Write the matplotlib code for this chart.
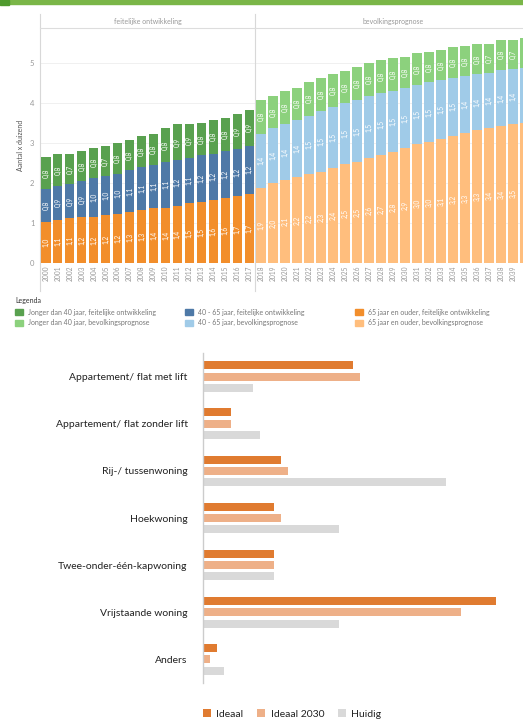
import matplotlib.pyplot as plt
from matplotlib.patches import Rectangle, Patch

plt.rcParams['font.family'] = ['Lato', 'DejaVu Sans']

# bevolking naar leeftijd (x duizend)
years_hist = list(range(2000, 2018))
years_prog = list(range(2018, 2041))

oud_hist = [1.03, 1.08, 1.12, 1.16, 1.16, 1.20, 1.24, 1.27, 1.32, 1.37, 1.39, 1.43, 1.51, 1.54, 1.58, 1.63, 1.68, 1.74]
midden_hist = [0.82, 0.86, 0.87, 0.89, 0.97, 0.98, 1.00, 1.05, 1.09, 1.08, 1.14, 1.16, 1.12, 1.16, 1.16, 1.17, 1.17, 1.19]
jong_hist = [0.81, 0.78, 0.73, 0.76, 0.76, 0.74, 0.76, 0.76, 0.77, 0.79, 0.84, 0.88, 0.86, 0.81, 0.84, 0.83, 0.87, 0.91]

oud_prog = [1.89, 2.01, 2.08, 2.16, 2.23, 2.28, 2.39, 2.48, 2.54, 2.63, 2.71, 2.79, 2.87, 2.97, 3.04, 3.11,
            3.18, 3.26, 3.33, 3.38, 3.43, 3.48, 3.51]
midden_prog = [1.35, 1.36, 1.39, 1.43, 1.46, 1.52, 1.52, 1.52, 1.53, 1.54, 1.54, 1.52, 1.50, 1.49, 1.48, 1.47,
               1.46, 1.42, 1.39, 1.38, 1.40, 1.37, 1.37]
jong_prog = [0.84, 0.81, 0.83, 0.79, 0.84, 0.82, 0.81, 0.81, 0.83, 0.83, 0.82, 0.81, 0.78, 0.79, 0.77, 0.75,
             0.77, 0.75, 0.77, 0.72, 0.76, 0.73, 0.75]

# woningvoorkeur (%)
woningtypes = ['Appartement/ flat met lift', 'Appartement/ flat zonder lift', 'Rij-/ tussenwoning',
               'Hoekwoning', 'Twee-onder-één-kapwoning', 'Vrijstaande woning', 'Anders']
ideaal = [21.3, 4.0, 11.1, 10.1, 10.1, 41.6, 2.0]
ideaal_2030 = [22.3, 4.0, 12.1, 11.1, 10.1, 36.6, 1.0]
huidig = [7.1, 8.1, 34.5, 19.3, 10.1, 19.3, 3.0]

c_jong = ['#59a14f', '#8cd17d']
c_midden = ['#4e79a7', '#a0cbe8']
c_oud = ['#f28e2b', '#ffbe7d']

fig = plt.figure(figsize=(5.23, 7.2), dpi=100)

# groene balk bovenaan
fig.patches.append(Rectangle((0, 0.994), 1, 0.006, transform=fig.transFigure, color='#7ab648', zorder=0))
fig.patches.append(Rectangle((0, 0.993), 0.018, 0.007, transform=fig.transFigure, color='#4f9a2e', zorder=1))

ax1 = fig.add_axes([0.0765, 0.6345, 0.4111, 0.3265])
ax2 = fig.add_axes([0.4876, 0.6345, 0.5277, 0.3265], sharey=ax1)


def fmt(v):
    return f'{v:.1f}'.replace('.', ',')


for ax, years, oud, midden, jong, k, titel in [
        (ax1, years_hist, oud_hist, midden_hist, jong_hist, 0, 'feitelijke ontwikkeling'),
        (ax2, years_prog, oud_prog, midden_prog, jong_prog, 1, 'bevolkingsprognose')]:
    b1 = ax.bar(years, oud, width=0.76, color=c_oud[k], zorder=3)
    b2 = ax.bar(years, midden, width=0.76, bottom=oud, color=c_midden[k], zorder=3)
    bot3 = [a + b for a, b in zip(oud, midden)]
    b3 = ax.bar(years, jong, width=0.76, bottom=bot3, color=c_jong[k], zorder=3)
    # 2040 valt buiten beeld: geen labels
    for bars, vals in [(b1, oud), (b2, midden), (b3, jong)]:
        ax.bar_label(bars, labels=[fmt(v) if y < 2040 else '' for y, v in zip(years, vals)],
                     label_type='center', rotation=90, color='white', fontsize=4.8)
    ax.set_xlim(years[0] - 0.5, years[-1] + 0.5)
    ax.set_xticks(years)
    ax.set_xticklabels([str(y) if y < 2040 else '' for y in years], rotation=90, fontsize=4.8,
                       color='#999999')
    ax.tick_params(axis='x', length=0, pad=2)
    for s in ['right', 'bottom', 'left']:
        ax.spines[s].set_visible(False)
    ax.spines['top'].set_color('#dddddd')
    ax.grid(axis='y', color='#eeeeee', linewidth=0.6, zorder=0)
    ax.plot([0, 0], [-0.12, 1.06], transform=ax.transAxes, color='#d8d8d8', linewidth=0.8, clip_on=False)
    ax.text(0.5, 1.03, titel, transform=ax.transAxes, ha='center', va='center', fontsize=5, color='#999999')

ax1.set_ylim(0, 5.88)
ax1.set_yticks([0, 1, 2, 3, 4, 5])
ax1.tick_params(axis='y', length=0, pad=4, labelsize=5.5, labelcolor='#999999')
ax2.tick_params(axis='y', left=False, labelleft=False)
ax1.set_ylabel('Aantal x duizend', fontsize=5, color='#555555', labelpad=4)

fig.text(0.029, 1 - 300 / 720, 'Legenda', fontsize=5, color='#333333', va='center')
kolommen = [
    (0.022, c_jong, ['Jonger dan 40 jaar, feitelijke ontwikkeling', 'Jonger dan 40 jaar, bevolkingsprognose']),
    (0.347, c_midden, ['40 - 65 jaar, feitelijke ontwikkeling', '40 - 65 jaar, bevolkingsprognose']),
    (0.672, c_oud, ['65 jaar en ouder, feitelijke ontwikkeling', '65 jaar en ouder, bevolkingsprognose']),
]
for x, kleuren, teksten in kolommen:
    handles = [Patch(color=c) for c in kleuren]
    fig.legend(handles, teksten, loc='upper left', bbox_to_anchor=(x, 1 - 305 / 720), frameon=False,
               fontsize=5, labelcolor='#777777', handlelength=1.1, handleheight=1.1, handletextpad=0.8,
               labelspacing=0.55, borderpad=0)

# woningvoorkeur
ax3 = fig.add_axes([0.388, 0.0514, 0.606, 0.4583])
pos = list(range(len(woningtypes)))
h = 0.17
ax3.barh([p - 0.24 for p in pos], ideaal, height=h, color='#e07b30', label='Ideaal')
ax3.barh(pos, ideaal_2030, height=h, color='#eeb088', label='Ideaal 2030')
ax3.barh([p + 0.24 for p in pos], huidig, height=h, color='#d9d9d9', label='Huidig')
ax3.set_ylim(6.5, -0.5)
ax3.set_xlim(0, 45)
ax3.set_yticks(pos)
ax3.set_yticklabels(woningtypes, fontsize=7.5, color='#222222')
ax3.tick_params(axis='y', length=0, pad=11)
ax3.set_xticks([])
for s in ['right', 'top', 'bottom']:
    ax3.spines[s].set_visible(False)
ax3.spines['left'].set_color('#cccccc')
ax3.spines['left'].set_linewidth(1)

fig.legend(loc='center left', bbox_to_anchor=(0.378, 1 - 714 / 720), ncol=3, frameon=False,
           fontsize=7.5, labelcolor='#222222', handlelength=0.8, handleheight=0.8, handletextpad=0.5,
           columnspacing=1.3, borderpad=0)

fig.savefig('out.png', dpi=100)
